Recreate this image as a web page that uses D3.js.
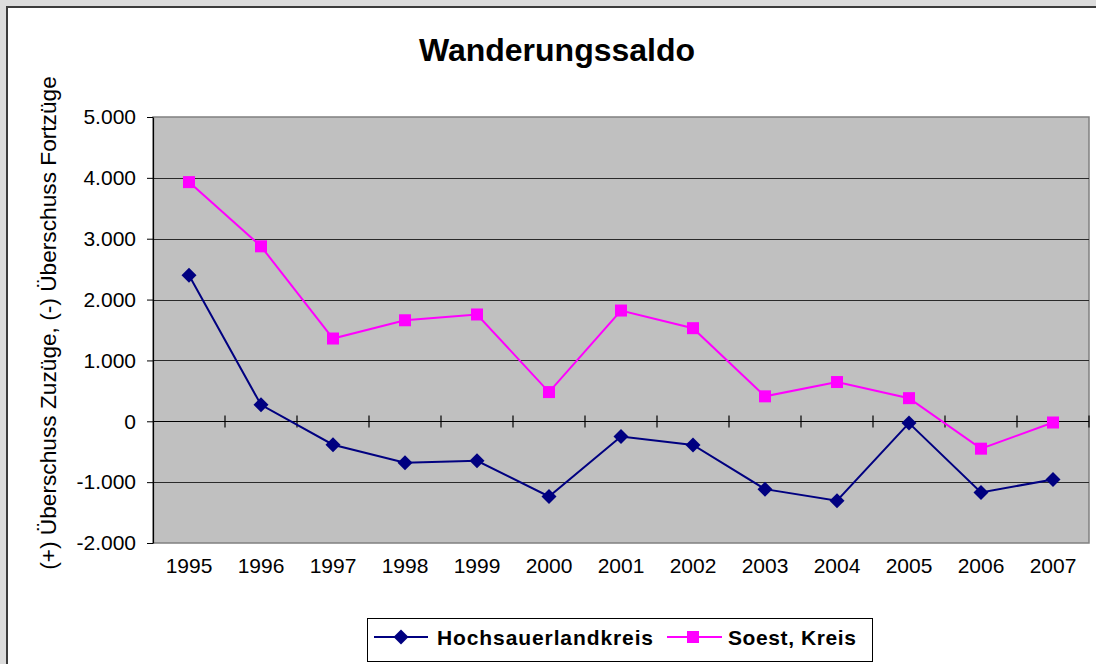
<!DOCTYPE html>
<html>
<head>
<meta charset="utf-8">
<script src="https://cdn.jsdelivr.net/npm/d3@7"></script>
<style>
  body { margin: 0; background: #dcdcdc; }
  svg { display: block; font-family: Arial, "Liberation Sans", sans-serif; }
</style>
</head>
<body>
<script>
"use strict";

// Data
var years = ["1995", "1996", "1997", "1998", "1999", "2000", "2001", "2002", "2003", "2004", "2005", "2006", "2007"];
var hochsauerland = [2400, 270, -385, -680, -650, -1235, -250, -390, -1115, -1305, -30, -1170, -955];
var soest = [3930, 2875, 1360, 1660, 1755, 480, 1820, 1530, 410, 645, 380, -450, -20];
var yTicks = [-2000, -1000, 0, 1000, 2000, 3000, 4000, 5000];
var seriesNames = ["Hochsauerlandkreis", "Soest, Kreis"];

var W = 1096, H = 664;
var plot = { left: 153, right: 1089, top: 117, bottom: 543 };

var de = d3.formatLocale({ decimal: ",", thousands: ".", grouping: [3], currency: ["", " €"], minus: "-" });
var fmt = de.format(",d");

var svg = d3.select("body").append("svg").attr("width", W).attr("height", H);

//Chart frame
svg.append("rect").attr("x", 7).attr("y", 7).attr("width", 1120).attr("height", 700)
  .attr("fill", "#fff").attr("stroke", "#3c3c3c").attr("stroke-width", 2);

//Scales
var xScale = d3.scaleBand().domain(years).range([plot.left, plot.right]).padding(0);
var yScale = d3.scaleLinear().domain([-2000, 5000]).range([plot.bottom, plot.top]);
var cx = function (d, i) { return xScale(years[i]) + xScale.bandwidth() / 2; };

//Plot area
svg.append("rect").attr("x", plot.left).attr("y", plot.top)
  .attr("width", plot.right - plot.left).attr("height", plot.bottom - plot.top)
  .attr("fill", "#c0c0c0").attr("stroke", "#808080").attr("stroke-width", 1.5);

//Gridlines
svg.append("g").selectAll("line").data(yTicks.filter(function (d) { return d > -2000 && d < 5000 && d !== 0; }))
  .enter().append("line")
  .attr("x1", plot.left).attr("x2", plot.right)
  .attr("y1", function (d) { return Math.round(yScale(d)) + 0.5; })
  .attr("y2", function (d) { return Math.round(yScale(d)) + 0.5; })
  .attr("stroke", "#2a2a2a").attr("stroke-width", 1.2);

//Y axis
var yAxis = d3.axisLeft(yScale).tickValues(yTicks).tickFormat(fmt).tickSizeInner(6).tickSizeOuter(0).tickPadding(11);
var gy = svg.append("g").attr("id", "y-axis").attr("transform", "translate(" + plot.left + ",0)").call(yAxis);
gy.select(".domain").attr("stroke", "#000").attr("stroke-width", 1.2);
gy.selectAll(".tick line").attr("stroke", "#000");
gy.selectAll("text").attr("font-size", 21).attr("fill", "#000").attr("font-family", "Arial, 'Liberation Sans', sans-serif");

//X axis at zero with crossing ticks on category borders
var y0 = Math.round(yScale(0)) + 0.5;
var gx = svg.append("g").attr("id", "x-axis");
gx.append("line").attr("x1", plot.left).attr("x2", plot.right).attr("y1", y0).attr("y2", y0)
  .attr("stroke", "#000").attr("stroke-width", 1.2);
gx.selectAll("line.tick").data(years.slice(1).concat(["end"])).enter().append("line").attr("class", "tick")
  .attr("x1", function (d) { return d === "end" ? plot.right : xScale(d); })
  .attr("x2", function (d) { return d === "end" ? plot.right : xScale(d); })
  .attr("y1", y0 - 6).attr("y2", y0 + 6)
  .attr("stroke", "#000").attr("stroke-width", 1.2);

//X labels under the plot
svg.append("g").selectAll("text").data(years).enter().append("text")
  .attr("x", function (d) { return xScale(d) + xScale.bandwidth() / 2; })
  .attr("y", 573).attr("text-anchor", "middle").attr("font-size", 21).text(function (d) { return d; });

//Lines
var line = d3.line().x(cx).y(function (d) { return yScale(d); });
svg.append("path").datum(hochsauerland).attr("d", line).attr("fill", "none").attr("stroke", "#000080").attr("stroke-width", 2);
svg.append("path").datum(soest).attr("d", line).attr("fill", "none").attr("stroke", "#ff00ff").attr("stroke-width", 2);

//Markers
var diamond = "M0,-7.5L7.5,0L0,7.5L-7.5,0Z";
svg.append("g").selectAll("path").data(hochsauerland).enter().append("path")
  .attr("d", diamond).attr("fill", "#000080")
  .attr("transform", function (d, i) { return "translate(" + cx(d, i) + "," + yScale(d) + ")"; });
svg.append("g").selectAll("rect").data(soest).enter().append("rect")
  .attr("x", function (d, i) { return cx(d, i) - 6; }).attr("y", function (d) { return yScale(d) - 6; })
  .attr("width", 12).attr("height", 12).attr("fill", "#ff00ff");

//Title
svg.append("text").attr("id", "title").attr("x", 557).attr("y", 61).attr("text-anchor", "middle")
  .attr("font-size", 32).attr("font-weight", "bold").text("Wanderungssaldo");

//Y axis title
svg.append("text").attr("transform", "translate(56,323) rotate(-90)").attr("text-anchor", "middle")
  .attr("font-size", 22.7).text("(+) Überschuss Zuzüge, (-) Überschuss Fortzüge");

//Legend
var legend = svg.append("g").attr("id", "legend");
legend.append("rect").attr("x", 367.5).attr("y", 618.5).attr("width", 505).attr("height", 43)
  .attr("fill", "#fff").attr("stroke", "#000").attr("stroke-width", 1);
var ly = 637;
legend.append("line").attr("x1", 374).attr("x2", 428).attr("y1", ly).attr("y2", ly).attr("stroke", "#000080").attr("stroke-width", 2);
legend.append("path").attr("d", diamond).attr("fill", "#000080").attr("transform", "translate(401," + ly + ")");
legend.append("text").attr("x", 437).attr("y", ly + 7.5).attr("font-size", 21).attr("font-weight", "bold")
  .attr("letter-spacing", 0.9).text(seriesNames[0]);
legend.append("line").attr("x1", 667).attr("x2", 722).attr("y1", ly).attr("y2", ly).attr("stroke", "#ff00ff").attr("stroke-width", 2);
legend.append("rect").attr("x", 687).attr("y", ly - 6).attr("width", 12).attr("height", 12).attr("fill", "#ff00ff");
legend.append("text").attr("x", 728).attr("y", ly + 7.5).attr("font-size", 21).attr("font-weight", "bold")
  .attr("letter-spacing", 0.6).text(seriesNames[1]);
</script>
</body>
</html>
